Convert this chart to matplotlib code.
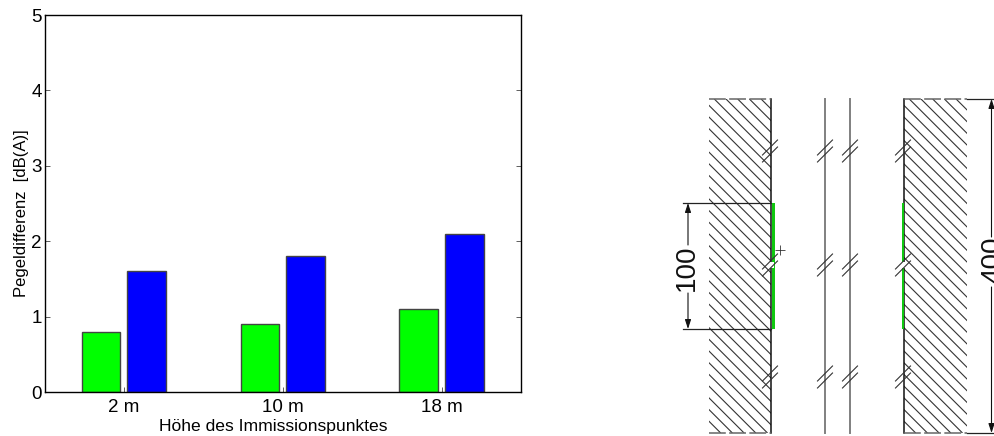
import numpy as np
import matplotlib
matplotlib.use("Agg")
import matplotlib.pyplot as plt
from matplotlib.patches import Rectangle
from matplotlib.collections import LineCollection

plt.rcParams['font.family'] = ['Liberation Sans', 'DejaVu Sans']

categories = ['2 m', '10 m', '18 m']
green_values = [0.8, 0.9, 1.1]
blue_values = [1.6, 1.8, 2.1]
y_ticks = [0, 1, 2, 3, 4, 5]

W, H = 994, 436
fig = plt.figure(figsize=(W / 100, H / 100), dpi=100, facecolor='white')


def rect(l, t, r, b):
    return [l / W, 1 - b / H, (r - l) / W, (b - t) / H]


ax = fig.add_axes(rect(44.5, 15, 521, 392))
x = np.arange(len(categories))
edge = '#444444'
ax.bar(x - 0.145, green_values, 0.242, color='#00ff00', edgecolor=edge, linewidth=1.0)
ax.bar(x + 0.143, blue_values, 0.242, color='#0000ff', edgecolor=edge, linewidth=1.0)
ax.set_xlim(-0.5, 2.5)
ax.set_ylim(0, 5)
ax.set_xticks(x, categories)
ax.set_yticks(y_ticks)
ax.tick_params(axis='both', direction='in', length=3.5, width=0.6, color='#444444',
               labelsize=13.5, right=True, top=False)
ax.tick_params(axis='y', pad=2)
ax.tick_params(axis='x', pad=5)
ax.set_ylabel('Pegeldifferenz  [dB(A)]', fontsize=12, labelpad=1.5, y=0.475)
ax.set_xlabel('Höhe des Immissionspunktes', fontsize=12.6, labelpad=2, x=0.481)
for s in ax.spines.values():
    s.set_linewidth(1.0)

# Schematic cross-section, axes in figure pixels
d = fig.add_axes([0, 0, 1, 1], facecolor='none')
d.set_xlim(0, W)
d.set_ylim(H, 0)
d.axis('off')


def hatch(l, t, r, b, step=11.7):
    segs = []
    h = b - t
    for c in np.arange(l - h, r + step, step):
        segs.append([(c, t), (c + h, b)])
    lc = LineCollection(segs, colors='#333333', linewidths=0.8)
    d.add_collection(lc)
    lc.set_clip_path(Rectangle((l, t), r - l, b - t, transform=d.transData))


hatch(709, 99, 771, 433)
hatch(904, 99, 967, 433)

# wall faces and dashed end caps
d.plot([771, 771], [99, 433], color='#111111', lw=1.1)
d.plot([904, 904], [99, 433], color='#111111', lw=1.1)
for a, b in [(709, 771), (904, 967)]:
    for yy in (99, 433):
        d.plot([a, b], [yy, yy], color='#666666', lw=1.1,
               dashes=(11, 2.2), dash_capstyle='butt')

# middle panes
for xx in (825, 850):
    d.plot([xx, xx], [99, 433], color='#808080', lw=1.4)

# green strips
d.add_patch(Rectangle((771.5, 203), 3, 126, color='#10c810', lw=0, zorder=3))
d.add_patch(Rectangle((901.5, 203), 2.5, 126, color='#10c810', lw=0, zorder=3))

# break marks
for yc in (151, 265, 377):
    for xc in (770, 825, 850, 903):
        if yc == 265 and xc in (770, 903):
            d.add_patch(Rectangle((xc - 2, yc - 3), 6, 6, color='white', lw=0, zorder=4))
        for off in (-3.5, 3.5):
            d.plot([xc - 7.5, xc + 7.5], [yc + 7.5 + off, yc - 7.5 + off],
                   color='#333333', lw=0.8, zorder=5)

# plus mark
d.plot([780], [250], marker='+', ms=7, mew=0.6, color='#333333', zorder=5)

# dimension lines
for yy in (203, 329):
    d.plot([683, 771], [yy, yy], color='#222222', lw=0.9)
for yy in (99, 433):
    d.plot([967, 994], [yy, yy], color='#222222', lw=0.9)


def arrow(xx, y0, y1):
    d.annotate('', xy=(xx, y1), xytext=(xx, y0),
               arrowprops=dict(arrowstyle='-|>,head_length=0.55,head_width=0.18', color='#111111',
                               lw=0.8, shrinkA=0, shrinkB=0, mutation_scale=10))


arrow(688, 245, 203)
arrow(688, 293, 329)
arrow(991.5, 237, 99)
arrow(991.5, 287, 433)

d.text(687, 268, '100', rotation=90, ha='center', va='center', fontsize=20, color='#111111')
d.text(993, 260, '400', rotation=90, ha='center', va='center', fontsize=20, color='#111111')

fig.savefig('out.png', dpi=100, facecolor='white')
